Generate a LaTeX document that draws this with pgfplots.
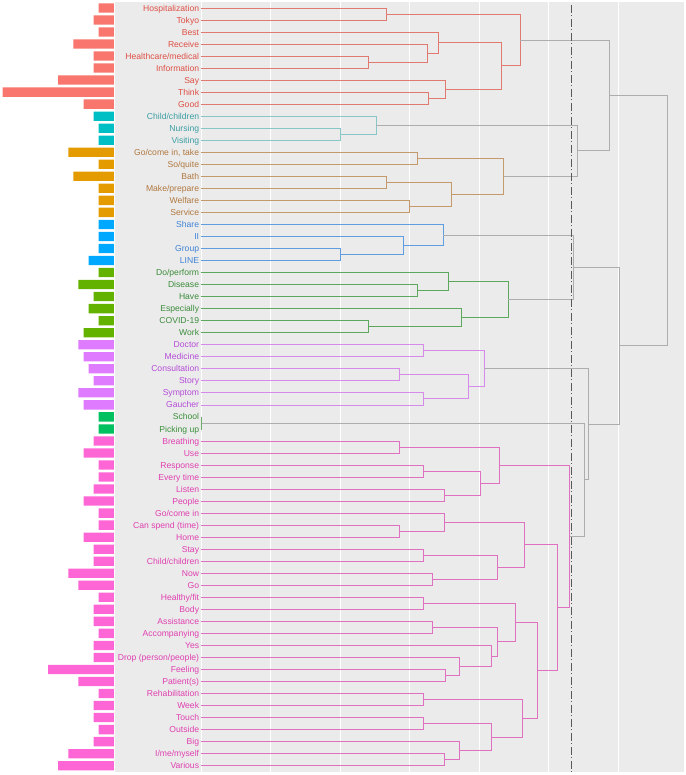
\documentclass[border=0pt]{standalone}
\usepackage{pgfplots}
\pgfplotsset{compat=1.18}
\usepackage{fontspec}
\setmainfont{Liberation Sans}
% bar colours
\definecolor{bRed}{HTML}{F8766D}
\definecolor{bTeal}{HTML}{00BFC4}
\definecolor{bOrange}{HTML}{E39B00}
\definecolor{bBlue}{HTML}{00A9FF}
\definecolor{bGreen}{HTML}{64B200}
\definecolor{bPurple}{HTML}{DF7BFF}
\definecolor{bGreenB}{HTML}{00C060}
\definecolor{bPink}{HTML}{FF66D5}
% text colours
\definecolor{tRed}{HTML}{DE4F45}
\definecolor{tTeal}{HTML}{3A9EA3}
\definecolor{tOrange}{HTML}{B07840}
\definecolor{tBlue}{HTML}{3F83D6}
\definecolor{tGreen}{HTML}{3C8C3C}
\definecolor{tPurple}{HTML}{B54CD8}
\definecolor{tGreenB}{HTML}{3A8F3A}
\definecolor{tPink}{HTML}{E040B0}
% line colours
\definecolor{lRed}{HTML}{E07A70}
\definecolor{lTeal}{HTML}{88C6C8}
\definecolor{lOrange}{HTML}{C49A6C}
\definecolor{lBlue}{HTML}{5E9EE0}
\definecolor{lGreen}{HTML}{5EA85E}
\definecolor{lPurple}{HTML}{D68BEA}
\definecolor{lGreenB}{HTML}{6AAE6A}
\definecolor{lPink}{HTML}{E070C0}
\definecolor{lGrey}{HTML}{ADADAD}
\definecolor{panelgrey}{HTML}{EBEBEB}

% segment: hA, yA, hB, yB, H, colour
\newcommand\seg[6]{\addplot[#6, line width=0.7pt, forget plot] coordinates {(#1,#2) (#5,#2) (#5,#4) (#3,#4)};}
\newcommand\lab[3]{\node[anchor=base east, inner sep=0pt, text=#3, yshift=-3.1pt] at (axis cs:-0.025,#1) {#2};}

\begin{document}
\begin{tikzpicture}
\useasboundingbox (0,0) rectangle (685pt,-775pt);
% ---------------- bar panel ----------------
\begin{axis}[
  at={(0pt,-1.9pt)}, anchor=north west,
  scale only axis, width=113.9pt, height=769.8pt,
  xmin=0, xmax=22.5, x dir=reverse,
  ymin=0.5, ymax=64.5, y dir=reverse,
  hide axis,
  xbar, bar shift=0pt, bar width=9.3pt,
]
\addplot[fill=bRed, draw=none] coordinates {(3,1) (4,2) (3,3) (8,4) (4,5) (4,6) (11,7) (22,8) (6,9)};
\addplot[fill=bTeal, draw=none] coordinates {(4,10) (3,11) (3,12)};
\addplot[fill=bOrange, draw=none] coordinates {(9,13) (3,14) (8,15) (3,16) (3,17) (3,18)};
\addplot[fill=bBlue, draw=none] coordinates {(3,19) (3,20) (3,21) (5,22)};
\addplot[fill=bGreen, draw=none] coordinates {(3,23) (7,24) (4,25) (5,26) (3,27) (6,28)};
\addplot[fill=bPurple, draw=none] coordinates {(7,29) (6,30) (5,31) (4,32) (7,33) (6,34)};
\addplot[fill=bGreenB, draw=none] coordinates {(3,35) (3,36)};
\addplot[fill=bPink, draw=none] coordinates {(4,37) (6,38) (3,39) (3,40) (4,41) (6,42) (3,43) (3,44) (6,45) (4,46) (4,47) (9,48) (7,49) (3,50) (4,51) (4,52) (3,53) (4,54) (4,55) (13,56) (7,57) (3,58) (4,59) (4,60) (3,61) (4,62) (9,63) (11,64)};
\end{axis}
% ---------------- dendrogram panel ----------------
\begin{axis}[
  at={(114.5pt,-1.9pt)}, anchor=north west,
  scale only axis, width=569.5pt, height=769.8pt,
  xmin=-1.244, xmax=6.945,
  ymin=0.5, ymax=64.5, y dir=reverse,
  axis background/.style={fill=panelgrey},
  axis line style={draw=none},
  xtick={0,1,2,3,4,5,6}, xticklabels={}, ytick=\empty,
  major tick length=0pt,
  xmajorgrids, major grid style={white, line width=0.5pt},
  clip=false,
  font=\fontsize{8.6}{10}\selectfont,
]
% red cluster
\seg{0}{1}{0}{2}{2.67}{lRed}
\seg{0}{5}{0}{6}{2.41}{lRed}
\seg{0}{4}{2.41}{5.5}{3.25}{lRed}
\seg{0}{3}{3.25}{4.75}{3.41}{lRed}
\seg{0}{8}{0}{9}{3.27}{lRed}
\seg{0}{7}{3.27}{8.5}{3.52}{lRed}
\seg{3.41}{3.875}{3.52}{7.75}{4.32}{lRed}
\seg{2.67}{1.5}{4.32}{5.8125}{4.59}{lRed}
% teal
\seg{0}{11}{0}{12}{2.00}{lTeal}
\seg{0}{10}{2.00}{11.5}{2.52}{lTeal}
% orange
\seg{0}{13}{0}{14}{3.11}{lOrange}
\seg{0}{15}{0}{16}{2.67}{lOrange}
\seg{0}{17}{0}{18}{3.00}{lOrange}
\seg{2.67}{15.5}{3.00}{17.5}{3.60}{lOrange}
\seg{3.11}{13.5}{3.60}{16.5}{4.35}{lOrange}
% grey
\seg{2.52}{10.75}{4.35}{15}{5.41}{lGrey}
\seg{4.59}{3.65625}{5.41}{12.875}{5.87}{lGrey}
% blue
\seg{0}{21}{0}{22}{2.00}{lBlue}
\seg{0}{20}{2.00}{21.5}{2.91}{lBlue}
\seg{0}{19}{2.91}{20.75}{3.48}{lBlue}
% green
\seg{0}{24}{0}{25}{3.11}{lGreen}
\seg{0}{23}{3.11}{24.5}{3.55}{lGreen}
\seg{0}{27}{0}{28}{2.41}{lGreen}
\seg{0}{26}{2.41}{27.5}{3.75}{lGreen}
\seg{3.55}{23.75}{3.75}{26.75}{4.42}{lGreen}
\seg{3.48}{19.875}{4.42}{25.25}{5.35}{lGrey}
% purple
\seg{0}{29}{0}{30}{3.20}{lPurple}
\seg{0}{31}{0}{32}{2.85}{lPurple}
\seg{0}{33}{0}{34}{3.20}{lPurple}
\seg{2.85}{31.5}{3.20}{33.5}{3.84}{lPurple}
\seg{3.20}{29.5}{3.84}{32.5}{4.07}{lPurple}
% green 2
\seg{0}{35}{0}{36}{0.01}{lGreenB}
% pink
\seg{0}{37}{0}{38}{2.85}{lPink}
\seg{0}{39}{0}{40}{3.20}{lPink}
\seg{0}{41}{0}{42}{3.50}{lPink}
\seg{3.20}{39.5}{3.50}{41.5}{4.02}{lPink}
\seg{2.85}{37.5}{4.02}{40.5}{4.29}{lPink}
\seg{0}{44}{0}{45}{2.85}{lPink}
\seg{0}{43}{2.85}{44.5}{3.50}{lPink}
\seg{0}{46}{0}{47}{3.20}{lPink}
\seg{0}{48}{0}{49}{3.33}{lPink}
\seg{3.20}{46.5}{3.33}{48.5}{4.26}{lPink}
\seg{3.50}{43.75}{4.26}{47.5}{4.65}{lPink}
\seg{0}{50}{0}{51}{3.20}{lPink}
\seg{0}{52}{0}{53}{3.33}{lPink}
\seg{0}{56}{0}{57}{3.52}{lPink}
\seg{0}{55}{3.52}{56.5}{3.71}{lPink}
\seg{0}{54}{3.71}{55.75}{4.17}{lPink}
\seg{3.33}{52.5}{4.17}{54.875}{4.26}{lPink}
\seg{3.20}{50.5}{4.26}{53.6875}{4.52}{lPink}
\seg{0}{58}{0}{59}{3.20}{lPink}
\seg{0}{60}{0}{61}{3.20}{lPink}
\seg{0}{63}{0}{64}{3.50}{lPink}
\seg{0}{62}{3.50}{63.5}{3.71}{lPink}
\seg{3.20}{60.5}{3.71}{62.75}{4.17}{lPink}
\seg{3.20}{58.5}{4.17}{61.625}{4.62}{lPink}
\seg{4.52}{52.09375}{4.62}{60.0625}{4.84}{lPink}
\seg{4.65}{45.625}{4.84}{56.078125}{5.12}{lPink}
\seg{4.29}{39}{5.12}{50.8515625}{5.30}{lPink}
% upper grey
\seg{0.01}{35.5}{5.30}{44.92578}{5.51}{lGrey}
\seg{4.07}{31}{5.51}{40.21289}{5.57}{lGrey}
\seg{5.35}{22.5625}{5.57}{35.606445}{6.01}{lGrey}
\seg{5.87}{8.265625}{6.01}{29.084473}{6.70}{lGrey}
% cut line
\addplot[color=black!65, line width=0.8pt, dash pattern=on 8pt off 2.5pt on 1pt off 2.5pt, forget plot] coordinates {(5.32,0.75) (5.32,64.5)};
% labels
\lab{1}{Hospitalization}{tRed}
\lab{2}{Tokyo}{tRed}
\lab{3}{Best}{tRed}
\lab{4}{Receive}{tRed}
\lab{5}{Healthcare/medical}{tRed}
\lab{6}{Information}{tRed}
\lab{7}{Say}{tRed}
\lab{8}{Think}{tRed}
\lab{9}{Good}{tRed}
\lab{10}{Child/children}{tTeal}
\lab{11}{Nursing}{tTeal}
\lab{12}{Visiting}{tTeal}
\lab{13}{Go/come in, take}{tOrange}
\lab{14}{So/quite}{tOrange}
\lab{15}{Bath}{tOrange}
\lab{16}{Make/prepare}{tOrange}
\lab{17}{Welfare}{tOrange}
\lab{18}{Service}{tOrange}
\lab{19}{Share}{tBlue}
\lab{20}{II}{tBlue}
\lab{21}{Group}{tBlue}
\lab{22}{LINE}{tBlue}
\lab{23}{Do/perform}{tGreen}
\lab{24}{Disease}{tGreen}
\lab{25}{Have}{tGreen}
\lab{26}{Especially}{tGreen}
\lab{27}{COVID-19}{tGreen}
\lab{28}{Work}{tGreen}
\lab{29}{Doctor}{tPurple}
\lab{30}{Medicine}{tPurple}
\lab{31}{Consultation}{tPurple}
\lab{32}{Story}{tPurple}
\lab{33}{Symptom}{tPurple}
\lab{34}{Gaucher}{tPurple}
\lab{35}{School}{tGreenB}
\lab{36}{Picking up}{tGreenB}
\lab{37}{Breathing}{tPink}
\lab{38}{Use}{tPink}
\lab{39}{Response}{tPink}
\lab{40}{Every time}{tPink}
\lab{41}{Listen}{tPink}
\lab{42}{People}{tPink}
\lab{43}{Go/come in}{tPink}
\lab{44}{Can spend (time)}{tPink}
\lab{45}{Home}{tPink}
\lab{46}{Stay}{tPink}
\lab{47}{Child/children}{tPink}
\lab{48}{Now}{tPink}
\lab{49}{Go}{tPink}
\lab{50}{Healthy/fit}{tPink}
\lab{51}{Body}{tPink}
\lab{52}{Assistance}{tPink}
\lab{53}{Accompanying}{tPink}
\lab{54}{Yes}{tPink}
\lab{55}{Drop (person/people)}{tPink}
\lab{56}{Feeling}{tPink}
\lab{57}{Patient(s)}{tPink}
\lab{58}{Rehabilitation}{tPink}
\lab{59}{Week}{tPink}
\lab{60}{Touch}{tPink}
\lab{61}{Outside}{tPink}
\lab{62}{Big}{tPink}
\lab{63}{I/me/myself}{tPink}
\lab{64}{Various}{tPink}
\end{axis}
\end{tikzpicture}
\end{document}
